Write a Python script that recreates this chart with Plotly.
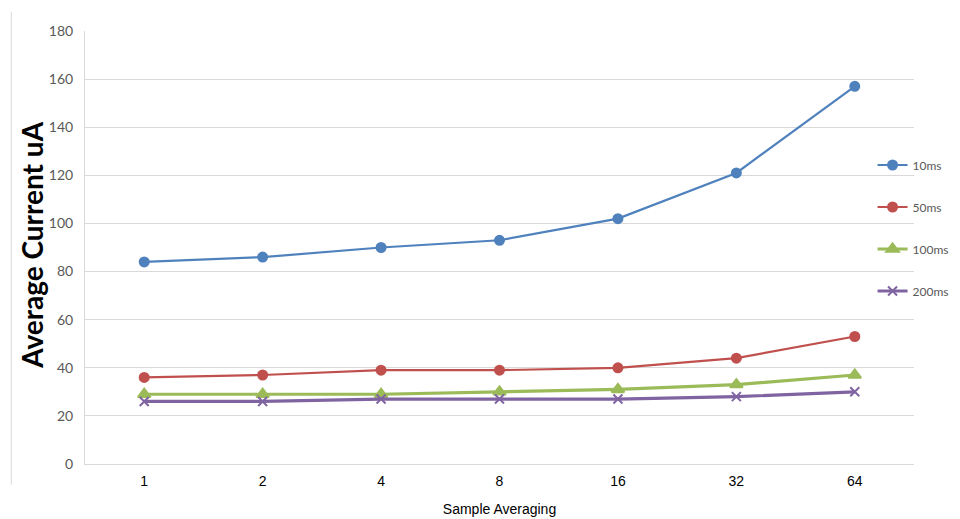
import plotly.graph_objects as go

# Sample averaging settings (categorical x axis)
averaging = ["1", "2", "4", "8", "16", "32", "64"]

# Average current (uA) per sample interval
current_10ms = [84, 86, 90, 93, 102, 121, 157]
current_50ms = [36, 37, 39, 39, 40, 44, 53]
current_100ms = [29, 29, 29, 30, 31, 33, 37]
current_200ms = [26, 26, 27, 27, 27, 28, 30]

series = [
    ("10ms", current_10ms, "#4F81BD", "circle", 9, 2.2),
    ("50ms", current_50ms, "#C0504D", "circle", 9, 2.2),
    ("100ms", current_100ms, "#9BBB59", "triangle-up", 11, 3.2),
    ("200ms", current_200ms, "#8064A2", "x-thin-open", 9, 3.2),
]

fig = go.Figure()
for name, vals, color, symbol, size, width in series:
    fig.add_trace(go.Scatter(
        x=averaging, y=vals, name=name, mode="lines+markers",
        line=dict(color=color, width=width),
        marker=dict(symbol=symbol, size=size, color=color,
                    line=dict(color=color, width=2)),
        legendgroup=name,
    ))

# thin border line at the far left of the chart area
fig.add_shape(type="line", xref="paper", yref="paper",
              x0=-0.089, x1=-0.089, y0=-0.048, y1=1.044,
              line=dict(color="#D9D9D9", width=1))

# y title as annotation so it can sit closer to the tick labels
fig.add_annotation(text="<b>Average Current uA</b>", xref="paper", yref="paper",
                   x=-0.064, y=0.506, textangle=-90, showarrow=False,
                   xanchor="center", yanchor="middle",
                   font=dict(family="Lato, Carlito, sans-serif", size=28, color="black"))

# page body adds 8px margin, so margins are offset to compensate;
# autoexpand off so the legend doesn't squeeze the plot area
fig.update_layout(
    width=960, height=519,
    margin=dict(l=77, r=54, t=23, b=63, autoexpand=False),
    paper_bgcolor="white", plot_bgcolor="white",
    showlegend=True,
    legend=dict(x=0.95, y=0.724, xanchor="left", yanchor="top",
                bgcolor="rgba(0,0,0,0)", traceorder="grouped",
                tracegroupgap=23,
                font=dict(family="Lato, Carlito, sans-serif", size=12, color="#595959")),
    xaxis=dict(
        type="category", automargin=False, range=[-0.5, 6.5],
        title=dict(text="Sample Averaging", standoff=16,
                   font=dict(family="Liberation Sans, Arial", size=14, color="black")),
        tickfont=dict(family="Liberation Sans, Arial", size=14, color="black"),
        ticklabelstandoff=4,
        showline=True, linecolor="#D9D9D9", linewidth=1,
        showgrid=False, ticks="", ticklen=0,
    ),
    yaxis=dict(
        range=[0, 180], dtick=20, automargin=False,
        tickfont=dict(family="Lato, Carlito, sans-serif", size=14, color="#595959"),
        ticklabelstandoff=8,
        showgrid=True, gridcolor="#D9D9D9", gridwidth=1,
        showline=True, linecolor="#D9D9D9", linewidth=1,
        zeroline=False, ticks="",
    ),
)

fig.write_html("out.html")
